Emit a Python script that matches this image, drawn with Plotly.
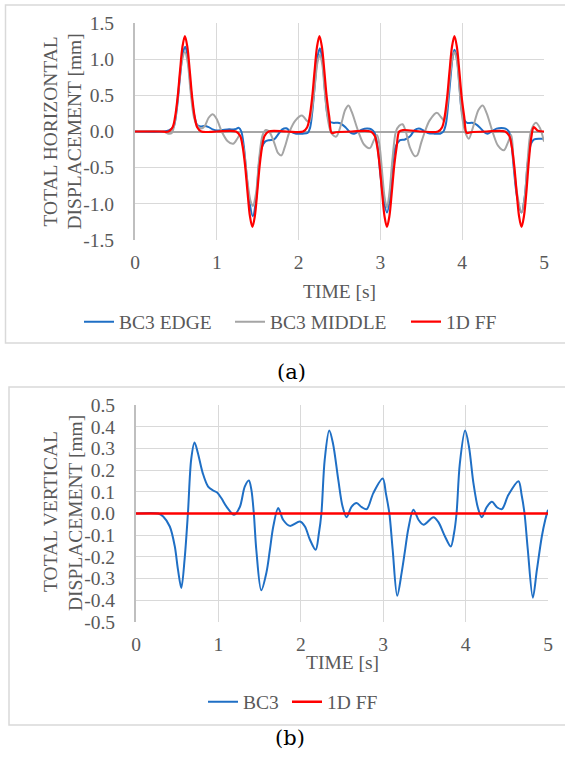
import plotly.graph_objects as go

# ---------------- (a) total horizontal displacement ----------------
t_edge = [0, 0.35, 0.42, 0.47, 0.51, 0.55, 0.585, 0.615, 0.645, 0.68, 0.71, 0.735, 0.76, 0.8, 0.85,
          0.9, 0.95, 1.0, 1.06, 1.15, 1.22, 1.27, 1.3, 1.33, 1.36, 1.4, 1.44, 1.48, 1.515, 1.55,
          1.59, 1.64, 1.7, 1.75, 1.8, 1.85, 1.9, 1.97, 2.05, 2.11, 2.14, 2.17, 2.2, 2.23, 2.26,
          2.29, 2.32, 2.35, 2.38, 2.42, 2.48, 2.53, 2.58, 2.64, 2.68, 2.73, 2.78, 2.84, 2.89, 2.93,
          2.97, 3.0, 3.04, 3.08, 3.12, 3.15, 3.19, 3.24, 3.3, 3.36, 3.42, 3.47, 3.52, 3.58, 3.66,
          3.73, 3.77, 3.8, 3.83, 3.86, 3.88, 3.905, 3.935, 3.965, 3.99, 4.02, 4.06, 4.12, 4.17, 4.22,
          4.27, 4.31, 4.36, 4.42, 4.48, 4.53, 4.57, 4.6, 4.63, 4.67, 4.725, 4.765, 4.8, 4.84, 4.88,
          4.95, 5.0]
edge = [0, 0.0, 0.02, 0.06, 0.3, 0.75, 1.08, 1.17, 1.02, 0.62, 0.32, 0.17, 0.09, 0.07, 0.075,
        0.06, 0.03, 0.015, 0.02, 0.03, 0.03, 0.05, 0.0, -0.2, -0.55, -0.98, -1.17, -0.95, -0.45, -0.22,
        -0.14, -0.12, -0.11, -0.04, 0.03, 0.045, 0.0, -0.03, -0.03, -0.02, 0.05, 0.3, 0.68, 1.02, 1.15,
        1.0, 0.6, 0.25, 0.14, 0.12, 0.12, 0.1, 0.05, -0.02, -0.03, 0.0, 0.03, 0.04, 0.03, -0.02,
        -0.25, -0.6, -0.95, -1.12, -0.9, -0.45, -0.2, -0.12, -0.11, -0.07, 0.02, 0.04, 0.02, -0.02, -0.03,
        -0.03, 0.0, 0.1, 0.4, 0.78, 1.0, 1.13, 1.02, 0.65, 0.32, 0.17, 0.12, 0.12, 0.1, 0.05,
        -0.01, -0.03, 0.0, 0.04, 0.05, 0.04, 0.0, -0.15, -0.5, -0.9, -1.12, -0.9, -0.45, -0.17, -0.11,
        -0.1, -0.1]

t_middle = [0, 0.35, 0.41, 0.45, 0.49, 0.53, 0.57, 0.61, 0.645, 0.68, 0.72, 0.76, 0.81, 0.85, 0.9,
            0.95, 1.0, 1.06, 1.13, 1.2, 1.25, 1.28, 1.33, 1.37, 1.41, 1.44, 1.48, 1.52, 1.56, 1.6,
            1.64, 1.7, 1.75, 1.79, 1.83, 1.89, 1.96, 2.04, 2.1, 2.13, 2.17, 2.2, 2.23, 2.26, 2.29,
            2.32, 2.36, 2.4, 2.46, 2.52, 2.57, 2.61, 2.65, 2.73, 2.8, 2.87, 2.92, 2.96, 2.99, 3.02,
            3.05, 3.08, 3.11, 3.15, 3.19, 3.23, 3.27, 3.31, 3.36, 3.42, 3.45, 3.5, 3.545, 3.6, 3.69,
            3.74, 3.78, 3.82, 3.85, 3.88, 3.905, 3.935, 3.97, 4.0, 4.04, 4.08, 4.13, 4.2, 4.25, 4.3,
            4.37, 4.44, 4.51, 4.56, 4.6, 4.63, 4.67, 4.725, 4.765, 4.8, 4.84, 4.9, 4.95, 5.0]
middle = [0, 0.0, -0.03, -0.02, 0.15, 0.55, 0.95, 1.1, 0.95, 0.55, 0.2, 0.08, 0.04, 0.07, 0.19,
          0.24, 0.17, 0.0, -0.13, -0.17, -0.1, -0.05, -0.25, -0.65, -0.95, -1.03, -0.85, -0.35, -0.05, 0.02,
          0.0, -0.15, -0.3, -0.33, -0.22, 0.0, 0.15, 0.22, 0.15, 0.13, 0.35, 0.65, 0.95, 1.06, 0.92,
          0.55, 0.15, -0.02, -0.07, 0.1, 0.3, 0.36, 0.27, 0.0, -0.18, -0.23, -0.12, -0.05, -0.2, -0.55,
          -0.9, -1.05, -0.85, -0.35, 0.0, 0.08, 0.1, 0.0, -0.22, -0.34, -0.33, -0.15, 0.0, 0.15, 0.26,
          0.2, 0.15, 0.4, 0.75, 1.0, 1.1, 0.98, 0.55, 0.2, -0.02, -0.1, 0.05, 0.3, 0.36, 0.25,
          0.0, -0.2, -0.26, -0.15, -0.05, -0.45, -0.85, -1.12, -0.9, -0.4, 0.0, 0.12, 0.05, -0.14]

t_ff = [0, 0.3, 0.41, 0.46, 0.49, 0.52, 0.55, 0.58, 0.61, 0.64, 0.67, 0.70, 0.73, 0.76, 0.81,
        1.0, 1.235, 1.285, 1.315, 1.345, 1.375, 1.405, 1.435, 1.465, 1.495, 1.525, 1.555, 1.585, 1.635,
        1.85, 2.055, 2.105, 2.135, 2.165, 2.195, 2.225, 2.255, 2.285, 2.315, 2.345, 2.375, 2.405, 2.455,
        2.65, 2.88, 2.93, 2.96, 2.99, 3.02, 3.05, 3.08, 3.11, 3.14, 3.17, 3.20, 3.23, 3.28,
        3.5, 3.705, 3.755, 3.785, 3.815, 3.845, 3.875, 3.905, 3.935, 3.965, 3.995, 4.025, 4.055, 4.105,
        4.3, 4.525, 4.575, 4.605, 4.635, 4.665, 4.695, 4.725, 4.755, 4.785, 4.815, 4.845, 4.875, 4.925,
        5.0]
ff = [0, 0, 0, 0.06, 0.2, 0.46, 0.83, 1.17, 1.32, 1.17, 0.83, 0.46, 0.2, 0.06, 0,
      0, 0, -0.06, -0.2, -0.46, -0.83, -1.17, -1.32, -1.17, -0.83, -0.46, -0.2, -0.06, 0,
      0, 0, 0.06, 0.2, 0.46, 0.83, 1.17, 1.32, 1.17, 0.83, 0.46, 0.2, -0.02, -0.01,
      0, 0, -0.06, -0.2, -0.46, -0.83, -1.17, -1.32, -1.17, -0.83, -0.46, -0.2, 0.0, 0.02,
      0, 0, 0.06, 0.2, 0.46, 0.83, 1.17, 1.32, 1.17, 0.83, 0.46, 0.2, -0.02, -0.01,
      0, 0, -0.06, -0.2, -0.46, -0.83, -1.17, -1.32, -1.17, -0.83, -0.4, -0.08, 0.06, 0.01,
      0]

# ---------------- (b) total vertical displacement ----------------
t_bc3 = [0, 0.27, 0.33, 0.41, 0.47, 0.51, 0.55, 0.59, 0.63, 0.67, 0.71, 0.75, 0.81, 0.875, 0.936,
         0.985, 1.037, 1.098, 1.19, 1.26, 1.32, 1.37, 1.40, 1.43, 1.46, 1.52, 1.584, 1.625, 1.666,
         1.726, 1.787, 1.868, 1.99, 2.05, 2.11, 2.18, 2.22, 2.25, 2.29, 2.345, 2.39, 2.455, 2.507,
         2.556, 2.617, 2.677, 2.74, 2.80, 2.88, 2.994, 3.034, 3.075, 3.115, 3.17, 3.225, 3.265, 3.305,
         3.366, 3.43, 3.49, 3.61, 3.67, 3.75, 3.82, 3.86, 3.89, 3.93, 3.994, 4.04, 4.095, 4.15,
         4.197, 4.257, 4.32, 4.38, 4.44, 4.52, 4.642, 4.68, 4.715, 4.755, 4.816, 4.865, 4.925, 4.966,
         5.0]
bc3 = [0, 0.0, -0.014, -0.06, -0.15, -0.26, -0.343, -0.21, 0.0, 0.25, 0.327, 0.28, 0.186, 0.124, 0.106,
       0.097, 0.07, 0.032, -0.006, 0.03, 0.124, 0.152, 0.11, 0.0, -0.167, -0.354, -0.27, -0.167, -0.06,
       0.025, -0.03, -0.057, -0.037, -0.06, -0.12, -0.167, -0.09, 0.0, 0.247, 0.382, 0.324, 0.155, 0.032,
       -0.017, 0.032, 0.048, 0.029, 0.02, 0.094, 0.161, 0.09, 0.0, -0.167, -0.379, -0.27, -0.17, -0.07,
       0.017, -0.03, -0.052, -0.017, -0.04, -0.106, -0.152, -0.09, 0.0, 0.23, 0.382, 0.31, 0.14, 0.025,
       -0.017, 0.03, 0.054, 0.029, 0.02, 0.086, 0.149, 0.085, 0.0, -0.167, -0.388, -0.26, -0.106, -0.03,
       0.017]
t_ff_v = [0, 5]
ff_v = [0, 0]

x_ticks = [0, 1, 2, 3, 4, 5]
y_ticks_h = [-1.5, -1.0, -0.5, 0.0, 0.5, 1.0, 1.5]
y_text_h = ["-1.5", "-1.0", "-0.5", "0.0", "0.5", "1.0", "1.5"]
y_ticks_v = [-0.5, -0.4, -0.3, -0.2, -0.1, 0.0, 0.1, 0.2, 0.3, 0.4, 0.5]
y_text_v = ["-0.5", "-0.4", "-0.3", "-0.2", "-0.1", "0.0", "0.1", "0.2", "0.3", "0.4", "0.5"]

W, H = 565, 768
FONT = "Liberation Serif"
FS = 19.5
TXT = "#595959"
BLUE = "#1F6FC5"
GRAY = "#A5A5A5"
RED = "#FF0000"
GRID = "#D9D9D9"


def px(x):
    return x / W


def py(y):
    return 1 - y / H


fig = go.Figure()
spl = dict(shape="spline", smoothing=0.9)
fig.add_trace(go.Scatter(x=t_edge, y=edge, name="BC3 EDGE", mode="lines",
                         line=dict(color=BLUE, width=2, **spl), xaxis="x", yaxis="y", legend="legend"))
fig.add_trace(go.Scatter(x=t_middle, y=middle, name="BC3 MIDDLE", mode="lines",
                         line=dict(color=GRAY, width=2, **spl), xaxis="x", yaxis="y", legend="legend2"))
fig.add_trace(go.Scatter(x=t_ff, y=ff, name="1D FF", mode="lines",
                         line=dict(color=RED, width=2.2, **spl), xaxis="x", yaxis="y", legend="legend3"))
fig.add_trace(go.Scatter(x=t_bc3, y=bc3, name="BC3", mode="lines",
                         line=dict(color=BLUE, width=2, **spl), xaxis="x2", yaxis="y2", legend="legend4"))
fig.add_trace(go.Scatter(x=t_ff_v, y=ff_v, name="1D FF", mode="lines",
                         line=dict(color=RED, width=2.5), xaxis="x2", yaxis="y2", legend="legend5"))

tickfont = dict(family=FONT, size=FS, color=TXT)
xcommon = dict(range=[0, 5], tickvals=x_ticks, showgrid=True, gridcolor=GRID, gridwidth=1.3,
               zeroline=False, showline=False, tickfont=tickfont, ticklabelstandoff=8,
               automargin=False, fixedrange=True)
ycommon = dict(showgrid=True, gridcolor=GRID, gridwidth=1.3, showline=True, linecolor="#BFBFBF",
               linewidth=2, tickfont=tickfont, ticklabelstandoff=15, automargin=False, fixedrange=True)

legend_common = dict(orientation="h", xanchor="left", yanchor="middle",
                     font=dict(family=FONT, size=FS, color=TXT), bgcolor="rgba(0,0,0,0)",
                     borderwidth=0, itemwidth=30)

fig.update_layout(
    width=W, height=H, margin=dict(l=0, r=0, t=0, b=0, autoexpand=False),
    paper_bgcolor="white", plot_bgcolor="white",
    xaxis=dict(domain=[px(135), px(544)], anchor="y", **xcommon),
    yaxis=dict(domain=[py(240), py(23)], anchor="x", range=[-1.5, 1.5], tickvals=y_ticks_h,
               ticktext=y_text_h, zeroline=True, zerolinecolor="#A6A6A6", zerolinewidth=2, **ycommon),
    xaxis2=dict(domain=[px(136), px(548)], anchor="y2", **xcommon),
    yaxis2=dict(domain=[py(622), py(405)], anchor="x2", range=[-0.5, 0.5], tickvals=y_ticks_v,
                ticktext=y_text_v, zeroline=False, **ycommon),
    legend=dict(x=px(79), y=py(322), **legend_common),
    legend2=dict(x=px(230), y=py(322), **legend_common),
    legend3=dict(x=px(406), y=py(322), **legend_common),
    legend4=dict(x=px(203), y=py(702), **legend_common),
    legend5=dict(x=px(287), y=py(702), **legend_common),
    showlegend=True,
)

# chart frames
fig.add_shape(type="rect", xref="paper", yref="paper", x0=px(5.5), x1=px(580), y0=py(343), y1=py(5),
              line=dict(color=GRID, width=1.5), layer="below")
fig.add_shape(type="rect", xref="paper", yref="paper", x0=px(9), x1=px(580), y0=py(725), y1=py(387),
              line=dict(color=GRID, width=1.5), layer="below")

title_font = dict(family=FONT, size=FS, color=TXT)
y_titles = [(50, 131.5, "TOTAL HORIZONTAL"), (74, 131.5, "DISPLACEMENT [mm]"),
            (50, 512, "TOTAL VERTICAL"), (75, 513, "DISPLACEMENT [mm]")]
for xx, yy, txt in y_titles:
    fig.add_annotation(x=px(xx), y=py(yy), xref="paper", yref="paper", showarrow=False,
                       textangle=-90, text=txt, font=title_font, xanchor="center", yanchor="middle")
fig.add_annotation(x=px(339.5), y=py(291), xref="paper", yref="paper", showarrow=False,
                   text="TIME [s]", font=title_font)
fig.add_annotation(x=px(342), y=py(675), xref="paper", yref="paper", showarrow=False,
                   text="TIME [s]", font=title_font)

cap_font = dict(family="DejaVu Serif", size=21, color="black")
fig.add_annotation(x=px(291), y=py(372), xref="paper", yref="paper", showarrow=False,
                   text="(a)", font=cap_font)
fig.add_annotation(x=px(290), y=py(752), xref="paper", yref="paper", showarrow=False,
                   text="(b)", font=cap_font)

fig.write_html("out.html")
